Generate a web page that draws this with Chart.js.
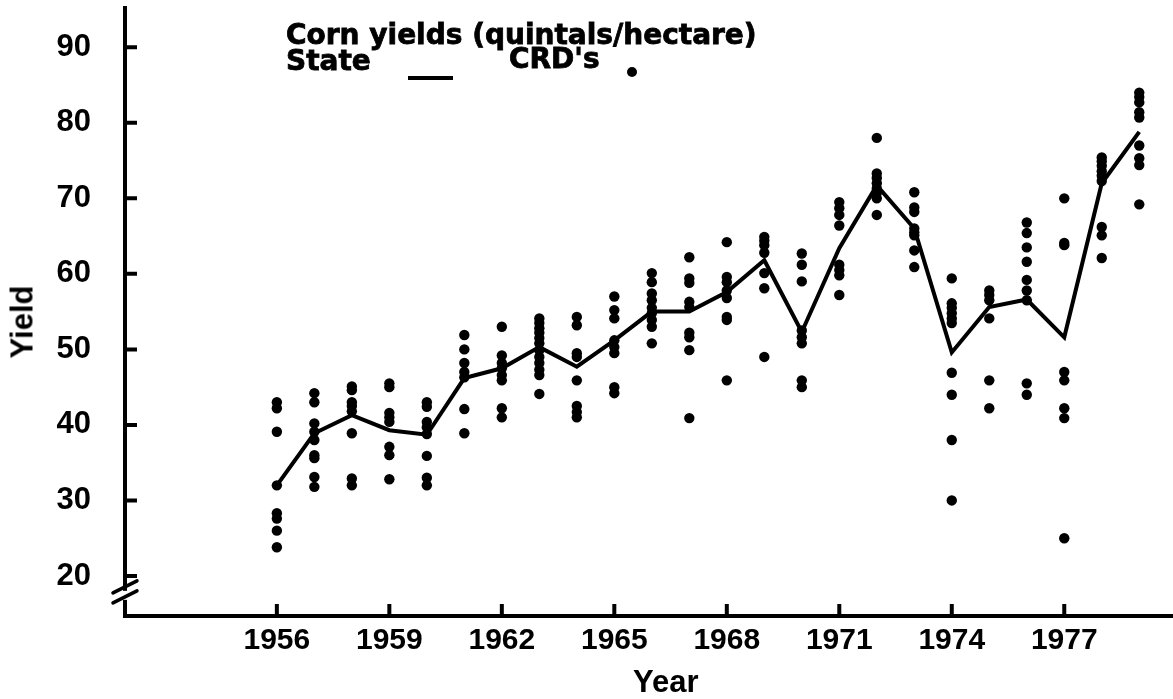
<!DOCTYPE html>
<html>
<head>
<meta charset="utf-8">
<script src="https://cdn.jsdelivr.net/npm/chart.js@4/dist/chart.umd.min.js"></script>
<style>
    body { margin: 0; background: #fff; }
    #wrap { position: relative; width: 1173px; height: 699px; }
    #chart { position: absolute; left: 0; top: 0; }
    .txt { position: absolute; color: #000; font-weight: bold; white-space: nowrap; }
    .head { font-family: 'DejaVu Sans', sans-serif; font-size: 28px; line-height: 28px; -webkit-text-stroke: 0.8px #000; }
    .axis-title { font-family: 'Liberation Sans', Arial, sans-serif; font-size: 31px; line-height: 31px; }
    #legendLine { position: absolute; left: 408px; top: 76px; width: 45px; height: 4px; background: #000; }
    #legendDot { position: absolute; left: 627px; top: 67px; width: 10px; height: 10px; border-radius: 50%; background: #000; }
</style>
</head>
<body>
<div id="wrap">
    <canvas id="chart" width="1173" height="699"></canvas>
    <div class="txt head" style="left:286px; top:21px;">Corn yields (quintals/hectare)</div>
    <div class="txt head" style="left:286px; top:47px;">State</div>
    <div id="legendLine"></div>
    <div class="txt head" style="left:509px; top:45px;">CRD's</div>
    <div id="legendDot"></div>
    <div class="txt axis-title" style="left:633px; top:666px;">Year</div>
    <div class="txt axis-title" style="left:22px; top:322px; transform: translate(-50%, -50%) rotate(-90deg);">Yield</div>
</div>
<script>
// Years on the x axis
const years = [1956, 1957, 1958, 1959, 1960, 1961, 1962, 1963, 1964, 1965, 1966, 1967,
               1968, 1969, 1970, 1971, 1972, 1973, 1974, 1975, 1976, 1977, 1978, 1979];

// State average yield (the line)
const stateYield = [32.0, 38.9, 41.3, 39.3, 38.7, 46.2, 47.5, 50.3, 47.7, 51.2, 55.0, 55.0,
                    57.6, 61.8, 52.3, 63.4, 71.7, 66.0, 49.6, 55.6, 56.6, 51.6, 72.0, 78.8];

// Crop reporting district yields (the dots), one list per year
const crdYields = [
    [43.0, 42.2, 39.1, 32.0, 28.3, 27.6, 26.0, 23.8],
    [44.2, 43.0, 40.2, 39.1, 38.0, 36.0, 35.6, 33.1, 31.8],
    [45.1, 44.6, 43.0, 42.5, 41.8, 38.9, 32.9, 32.0],
    [45.5, 45.0, 41.6, 41.0, 40.4, 37.1, 36.0, 32.8],
    [43.0, 42.4, 40.4, 39.7, 38.8, 35.9, 33.0, 32.0],
    [51.9, 50.0, 48.2, 47.0, 46.3, 42.1, 38.9],
    [53.0, 49.2, 48.2, 47.5, 46.6, 45.9, 42.2, 41.0],
    [54.1, 53.5, 52.8, 52.2, 51.5, 50.8, 49.9, 49.0, 48.2, 47.3, 46.6, 44.1],
    [54.3, 53.2, 49.5, 49.0, 45.9, 42.5, 41.7, 41.0],
    [57.0, 55.2, 54.1, 51.2, 50.3, 49.5, 45.0, 44.2],
    [60.1, 58.9, 57.4, 56.5, 55.5, 54.8, 53.9, 53.0, 50.8],
    [62.2, 59.4, 58.8, 56.3, 55.6, 52.2, 51.6, 49.9, 40.9],
    [64.2, 59.6, 58.9, 57.8, 56.8, 54.3, 53.9, 45.9],
    [64.9, 64.4, 63.8, 62.8, 60.1, 58.1, 49.0],
    [62.7, 61.2, 59.0, 52.5, 51.6, 50.8, 45.9, 45.0],
    [69.5, 68.7, 67.8, 66.4, 61.2, 60.5, 59.8, 57.2],
    [78.0, 73.3, 72.7, 72.0, 71.3, 70.7, 70.0, 67.8],
    [70.8, 68.8, 68.2, 66.0, 65.5, 65.1, 63.1, 60.9],
    [59.4, 56.1, 55.5, 54.8, 54.1, 53.5, 46.9, 44.0, 38.0, 30.0],
    [57.8, 57.2, 56.5, 54.1, 45.9, 42.2],
    [66.8, 65.4, 63.5, 61.6, 59.2, 57.8, 56.5, 45.5, 44.0],
    [70.0, 64.1, 63.8, 47.0, 45.9, 42.2, 40.9, 25.0],
    [75.4, 74.9, 74.3, 73.6, 73.0, 72.3, 66.2, 65.1, 62.1],
    [84.0, 83.4, 82.7, 81.4, 80.7, 77.0, 75.3, 74.4, 69.2]
];

// Tick labels
const xTicks = [1956, 1959, 1962, 1965, 1968, 1971, 1974, 1977];
const yTicks = [20, 30, 40, 50, 60, 70, 80, 90];

const statePoints = years.map((yr, i) => ({ x: yr, y: stateYield[i] }));
const crdPoints = [];
years.forEach((yr, i) => {
    crdYields[i].forEach(v => crdPoints.push({ x: yr, y: v }));
});

// Inward tick marks and the axis break, placed with the chart's own scales
const axisMarks = {
    id: 'axisMarks',
    afterDraw(chart) {
        const { ctx, chartArea, scales } = chart;
        const L = chartArea.left, B = chartArea.bottom;
        ctx.save();
        ctx.strokeStyle = '#000';
        ctx.lineWidth = 4;
        ctx.lineCap = 'butt';
        ctx.beginPath();
        yTicks.forEach(v => {
            const py = scales.y.getPixelForValue(v);
            ctx.moveTo(L, py);
            ctx.lineTo(L + 12, py);
        });
        xTicks.forEach(v => {
            const px = scales.x.getPixelForValue(v);
            ctx.moveTo(px, B);
            ctx.lineTo(px, B - 12);
        });
        ctx.stroke();

        // break mark on the y axis
        const by = scales.y.getPixelForValue(17.5);
        ctx.fillStyle = '#fff';
        ctx.fillRect(L - 4, by - 4, 8, 9);
        ctx.lineWidth = 3.5;
        ctx.lineCap = 'round';
        ctx.beginPath();
        ctx.moveTo(L - 12, by - 2);
        ctx.lineTo(L + 12, by - 14);
        ctx.moveTo(L - 12, by + 8);
        ctx.lineTo(L + 12, by - 4);
        ctx.stroke();
        ctx.restore();
    }
};

const tickFont = { family: "'Liberation Sans', Arial, sans-serif", size: 30, weight: 'bold' };

new Chart(document.getElementById('chart'), {
    type: 'scatter',
    data: {
        datasets: [
            {
                label: 'State',
                data: statePoints,
                showLine: true,
                borderColor: '#000',
                borderWidth: 4,
                tension: 0,
                pointRadius: 0,
                order: 1
            },
            {
                label: "CRD's",
                data: crdPoints,
                backgroundColor: '#000',
                borderWidth: 0,
                pointRadius: 5.2,
                order: 2
            }
        ]
    },
    options: {
        responsive: false,
        animation: false,
        events: [],
        layout: { autoPadding: false, padding: { top: 8, right: 0, bottom: 0, left: 0 } },
        plugins: {
            legend: { display: false },
            tooltip: { enabled: false }
        },
        scales: {
            x: {
                type: 'linear',
                min: 1951.95,
                max: 1979.9,
                afterFit: s => { s.height = 83; s.paddingLeft = 0; s.paddingRight = 0; },
                afterBuildTicks: s => { s.ticks = xTicks.map(v => ({ value: v })); },
                grid: { display: false, drawTicks: false },
                border: { display: true, color: '#000', width: 4 },
                ticks: {
                    autoSkip: false,
                    maxRotation: 0,
                    padding: 7,
                    color: '#000',
                    font: tickFont,
                    callback: v => String(v)
                }
            },
            y: {
                min: 14.7,
                max: 95.2,
                afterFit: s => { s.width = 125; s.paddingTop = 0; s.paddingBottom = 0; },
                afterBuildTicks: s => { s.ticks = yTicks.map(v => ({ value: v })); },
                grid: { display: false, drawTicks: false },
                border: { display: true, color: '#000', width: 4 },
                ticks: {
                    padding: 34,
                    color: '#000',
                    font: { family: "'Liberation Sans', Arial, sans-serif", size: 31, weight: 'bold' },
                    callback: v => String(v)
                }
            }
        }
    },
    plugins: [axisMarks]
});
</script>
</body>
</html>
